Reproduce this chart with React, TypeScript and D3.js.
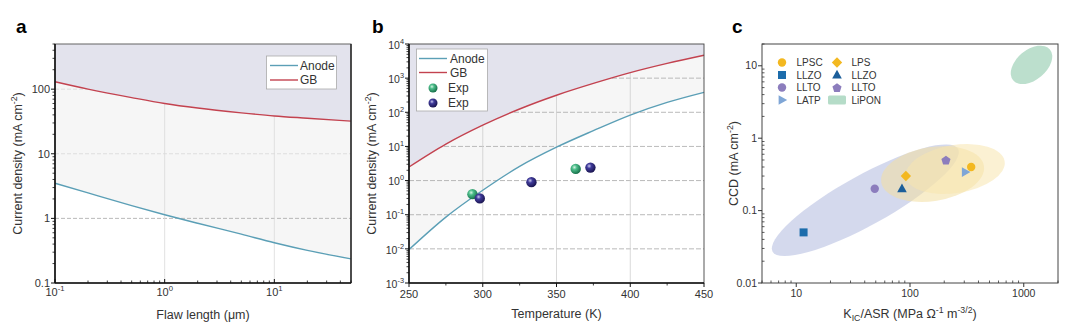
import React from 'react';
import * as d3 from 'd3';

const FONT = '"Liberation Sans", Arial, Helvetica, sans-serif';

// ---------- Panel a data ----------
const flawLength = [0.1, 0.2, 0.5, 1, 2, 5, 10, 20, 50];
const anodeA = [3.5, 2.48, 1.58, 1.14, 0.84, 0.57, 0.42, 0.32, 0.236];
const gbA = [130, 100, 74, 60, 51, 43, 38.5, 35.5, 32];
const aXTicks = [0.1, 1, 10];
const aXTickExp = ['-1', '0', '1'];
const aYTicks = [0.1, 1, 10, 100];
const aYTickLabels = ['0.1', '1', '10', '100'];

// ---------- Panel b data ----------
const temperature = [250, 275, 300, 325, 350, 375, 400, 425, 450];
const anodeB = [0.0095, 0.085, 0.52, 2.6, 9.5, 29, 83, 195, 385];
const gbB = [2.5, 11.7, 42, 125, 316, 700, 1450, 2700, 4700];
const expGreenT = [293, 363];
const expGreenJ = [0.4, 2.2];
const expBlueT = [298, 333, 373];
const expBlueJ = [0.3, 0.9, 2.4];
const bXTicks = [250, 300, 350, 400, 450];
const bYTickExp = [-3, -2, -1, 0, 1, 2, 3, 4];

// ---------- Panel c data ----------
const cPointNames = ['LPSC', 'LLZO', 'LLTO', 'LATP', 'LPS', 'LLZO', 'LLTO'];
const cPointKic = [345, 11.6, 49, 306, 92, 85, 207];
const cPointCcd = [0.4, 0.05, 0.2, 0.34, 0.3, 0.2, 0.5];
const cEllipseNames = ['LLZO/LLTO', 'LPS', 'LPSC', 'LiPON'];
const cEllipseKic = [40.5, 158, 250, 1170];
const cEllipseCcd = [0.139, 0.32, 0.375, 10.3];
const cXTicks = [10, 100, 1000];
const cYTicks = [0.01, 0.1, 1, 10];
const cYTickLabels = ['0.01', '0.1', '1', '10'];

// ---------- styles ----------
const ANODE = '#5b9fb6';
const GB = '#c3424f';
const LAVENDER = '#e3e3ed';
const BETWEEN = '#f6f6f6';
const cPointShape = ['circle', 'square', 'circle', 'triRight', 'diamond', 'triangle', 'pentagon'];
const cPointColor = ['#f3b820', '#1c6cab', '#8c7dbd', '#7fa6d6', '#f3b820', '#1b5e9a', '#8c7dbd'];
const cEllipseStyle = [
  { rx: 106, ry: 25, rot: -29, fill: '#c9cfe8', op: 0.8 },
  { rx: 52, ry: 27, rot: -9, fill: '#f3dea0', op: 0.55 },
  { rx: 50, ry: 24, rot: -9, fill: '#f8e6ae', op: 0.55 },
  { rx: 24, ry: 15, rot: -40, fill: '#b5dcc8', op: 0.9 },
];

function minorLogTicks(lo: number, hi: number) {
  const out: number[] = [];
  for (let e = Math.floor(Math.log10(lo)); e <= Math.ceil(Math.log10(hi)); e++) {
    for (let k = 2; k <= 9; k++) {
      const v = k * Math.pow(10, e);
      if (v >= lo && v <= hi) out.push(v);
    }
  }
  return out;
}

function shapePath(shape: string, s: number) {
  switch (shape) {
    case 'square':
      return `M${-s},${-s}h${2 * s}v${2 * s}h${-2 * s}Z`;
    case 'diamond':
      return `M0,${-s * 1.3}L${s * 1.3},0L0,${s * 1.3}L${-s * 1.3},0Z`;
    case 'triangle':
      return `M0,${-s * 1.3}L${s * 1.2},${s * 0.85}L${-s * 1.2},${s * 0.85}Z`;
    case 'triRight':
      return `M${s * 1.3},0L${-s * 0.85},${s * 1.2}L${-s * 0.85},${-s * 1.2}Z`;
    case 'pentagon': {
      const pts = d3.range(5).map((k) => {
        const a = ((-90 + 72 * k) * Math.PI) / 180;
        return [Math.cos(a) * s * 1.2, Math.sin(a) * s * 1.2 + 0.5];
      });
      return 'M' + pts.map((p) => p.join(',')).join('L') + 'Z';
    }
    default:
      return d3.arc()({ innerRadius: 0, outerRadius: s * 1.05, startAngle: 0, endAngle: 2 * Math.PI }) as string;
  }
}

const Sup = ({ base, exp }: { base: string; exp: string }) => (
  <>
    {base}
    <tspan dy={-5} fontSize="0.7em">{exp}</tspan>
  </>
);

function PanelA() {
  const x = d3.scaleLog().domain([0.1, 50]).range([55, 351]);
  const y = d3.scaleLog().domain([0.1, 500]).range([283, 44]);
  const [x0, x1] = x.range();
  const [y0, y1] = y.range();
  const data = flawLength.map((f, i) => ({ f, a: anodeA[i], g: gbA[i] }));
  const curve = d3.curveMonotoneX;
  const above = d3.area<any>().x((d) => x(d.f)).y0(y1).y1((d) => y(d.g)).curve(curve)(data) as string;
  const between = d3.area<any>().x((d) => x(d.f)).y0((d) => y(d.g)).y1((d) => y(d.a)).curve(curve)(data) as string;
  const lineA = d3.line<any>().x((d) => x(d.f)).y((d) => y(d.a)).curve(curve)(data) as string;
  const lineG = d3.line<any>().x((d) => x(d.f)).y((d) => y(d.g)).curve(curve)(data) as string;
  return (
    <g>
      <text x={16} y={33} fontSize={19} fontWeight="bold">a</text>
      <path d={between} fill={BETWEEN} />
      {aYTicks.slice(1).map((t) => (
        <line key={'gy' + t} x1={x0} x2={x1} y1={y(t)} y2={y(t)} stroke={t === 1 ? '#a8a8a8' : '#d8d8d8'} strokeWidth={0.8} strokeDasharray="4,2" />
      ))}
      {aXTicks.slice(1).map((t) => (
        <line key={'gx' + t} x1={x(t)} x2={x(t)} y1={y0} y2={y1} stroke="#dadada" strokeWidth={0.8} />
      ))}
      <path d={above} fill={LAVENDER} />
      <path d={lineA} fill="none" stroke={ANODE} strokeWidth={1.4} />
      <path d={lineG} fill="none" stroke={GB} strokeWidth={1.4} />
      {/* frame */}
      <rect x={x0} y={y1} width={x1 - x0} height={y0 - y1} fill="none" stroke="#555" strokeWidth={0.9} />
      <line x1={x0} x2={x0} y1={y1} y2={y0} stroke="#111" strokeWidth={1.6} />
      <line x1={x0} x2={x1} y1={y0} y2={y0} stroke="#111" strokeWidth={1.6} />
      <line x1={x1} x2={x1} y1={y1} y2={y0} stroke="#222" strokeWidth={1.4} />
      {/* y ticks */}
      {aYTicks.map((t, i) => (
        <g key={'yt' + t}>
          <line x1={x0 - 4} x2={x0} y1={y(t)} y2={y(t)} stroke="#111" />
          <text x={x0 - 5} y={y(t)} dy="0.35em" textAnchor="end" fontSize={11} fill="#333">{aYTickLabels[i]}</text>
        </g>
      ))}
      {minorLogTicks(0.1, 500).map((t) => (
        <line key={'ym' + t} x1={x0 - 2.5} x2={x0} y1={y(t)} y2={y(t)} stroke="#111" strokeWidth={0.8} />
      ))}
      {/* x ticks */}
      {aXTicks.map((t, i) => (
        <g key={'xt' + t}>
          <line x1={x(t)} x2={x(t)} y1={y0} y2={y0 - 4} stroke="#111" />
          <text x={x(t)} y={296} textAnchor="middle" fontSize={11} fill="#333"><Sup base="10" exp={aXTickExp[i]} /></text>
        </g>
      ))}
      {minorLogTicks(0.1, 50).map((t) => (
        <line key={'xm' + t} x1={x(t)} x2={x(t)} y1={y0} y2={y0 - 2.5} stroke="#111" strokeWidth={0.8} />
      ))}
      <text x={(x0 + x1) / 2} y={319} textAnchor="middle" fontSize={12.5} fill="#333">Flaw length (μm)</text>
      <text transform={`translate(22,${(y0 + y1) / 2}) rotate(-90)`} textAnchor="middle" fontSize={12.5} fill="#333">
        Current density (mA cm<tspan dy={-5} fontSize="0.7em">-2</tspan><tspan dy={5}>)</tspan>
      </text>
      {/* legend */}
      <rect x={266.5} y={56} width={70} height={33} fill="#fff" stroke="#aaa" strokeWidth={0.8} />
      <line x1={270} x2={298} y1={65.5} y2={65.5} stroke={ANODE} strokeWidth={1.4} />
      <text x={300} y={65.5} dy="0.35em" fontSize={12} fill="#333">Anode</text>
      <line x1={270} x2={298} y1={80} y2={80} stroke={GB} strokeWidth={1.4} />
      <text x={300} y={80} dy="0.35em" fontSize={12} fill="#333">GB</text>
    </g>
  );
}

function Sphere({ cx, cy, id, r }: { cx: number; cy: number; id: string; r: number }) {
  return <circle cx={cx} cy={cy} r={r} fill={`url(#${id})`} />;
}

function PanelB() {
  const x = d3.scaleLinear().domain([250, 450]).range([409, 704]);
  const y = d3.scaleLog().domain([1e-3, 1e4]).range([283, 44]);
  const [x0, x1] = x.range();
  const [y0, y1] = y.range();
  const data = temperature.map((t, i) => ({ t, a: anodeB[i], g: gbB[i] }));
  const curve = d3.curveMonotoneX;
  const above = d3.area<any>().x((d) => x(d.t)).y0(y1).y1((d) => y(d.g)).curve(curve)(data) as string;
  const between = d3.area<any>().x((d) => x(d.t)).y0((d) => y(d.g)).y1((d) => y(d.a)).curve(curve)(data) as string;
  const lineA = d3.line<any>().x((d) => x(d.t)).y((d) => y(d.a)).curve(curve)(data) as string;
  const lineG = d3.line<any>().x((d) => x(d.t)).y((d) => y(d.g)).curve(curve)(data) as string;
  return (
    <g>
      <text x={372} y={33} fontSize={19} fontWeight="bold">b</text>
      <path d={between} fill={BETWEEN} />
      {bYTickExp.slice(1, -1).map((e) => (
        <line key={'gy' + e} x1={x0} x2={x1} y1={y(Math.pow(10, e))} y2={y(Math.pow(10, e))} stroke="#a8a8a8" strokeWidth={0.8} strokeDasharray="5,2" />
      ))}
      {bXTicks.slice(1, -1).map((t) => (
        <line key={'gx' + t} x1={x(t)} x2={x(t)} y1={y0} y2={y1} stroke="#cfcfcf" strokeWidth={0.8} />
      ))}
      <path d={above} fill={LAVENDER} />
      <path d={lineA} fill="none" stroke={ANODE} strokeWidth={1.4} />
      <path d={lineG} fill="none" stroke={GB} strokeWidth={1.4} />
      {expGreenT.map((t, i) => (
        <Sphere key={'g' + t} cx={x(t)} cy={y(expGreenJ[i])} id="sphG" r={5.2} />
      ))}
      {expBlueT.map((t, i) => (
        <Sphere key={'b' + t} cx={x(t)} cy={y(expBlueJ[i])} id="sphB" r={5.2} />
      ))}
      <rect x={x0} y={y1} width={x1 - x0} height={y0 - y1} fill="none" stroke="#444" strokeWidth={0.9} />
      <line x1={x0} x2={x0} y1={y1} y2={y0} stroke="#111" strokeWidth={1.6} />
      <line x1={x0} x2={x1} y1={y0} y2={y0} stroke="#111" strokeWidth={1.6} />
      {bYTickExp.map((e) => (
        <g key={'yt' + e}>
          <line x1={x0 - 4} x2={x0} y1={y(Math.pow(10, e))} y2={y(Math.pow(10, e))} stroke="#111" />
          <text x={x0 - 5} y={y(Math.pow(10, e)) + 1} dy="0.35em" textAnchor="end" fontSize={10.5} fill="#333"><Sup base="10" exp={String(e)} /></text>
        </g>
      ))}
      {minorLogTicks(1e-3, 1e4).map((t) => (
        <line key={'ym' + t} x1={x0 - 2.5} x2={x0} y1={y(t)} y2={y(t)} stroke="#111" strokeWidth={0.8} />
      ))}
      {bXTicks.map((t) => (
        <g key={'xt' + t}>
          <line x1={x(t)} x2={x(t)} y1={y0} y2={y0 + 4} stroke="#111" />
          <text x={x(t)} y={298} textAnchor="middle" fontSize={11} fill="#333">{t}</text>
        </g>
      ))}
      {d3.range(275, 450, 50).map((t) => (
        <line key={'xm' + t} x1={x(t)} x2={x(t)} y1={y0} y2={y0 + 2.5} stroke="#111" strokeWidth={0.8} />
      ))}
      <text x={(x0 + x1) / 2} y={318} textAnchor="middle" fontSize={12.5} fill="#333">Temperature (K)</text>
      <text transform={`translate(376,${(y0 + y1) / 2}) rotate(-90)`} textAnchor="middle" fontSize={12.5} fill="#333">
        Current density (mA cm<tspan dy={-5} fontSize="0.7em">-2</tspan><tspan dy={5}>)</tspan>
      </text>
      <rect x={416.5} y={49} width={71} height={62} fill="#fff" stroke="#aaa" strokeWidth={0.8} />
      <line x1={419} x2={447} y1={58.5} y2={58.5} stroke={ANODE} strokeWidth={1.4} />
      <text x={450} y={58.5} dy="0.35em" fontSize={12} fill="#333">Anode</text>
      <line x1={419} x2={447} y1={72.5} y2={72.5} stroke={GB} strokeWidth={1.4} />
      <text x={450} y={72.5} dy="0.35em" fontSize={12} fill="#333">GB</text>
      <Sphere cx={433} cy={88} id="sphG" r={4.5} />
      <text x={448} y={88} dy="0.35em" fontSize={12} fill="#333">Exp</text>
      <Sphere cx={433} cy={103} id="sphB" r={4.5} />
      <text x={448} y={103} dy="0.35em" fontSize={12} fill="#333">Exp</text>
    </g>
  );
}

function PanelC() {
  const x = d3.scaleLog().domain([5, 2000]).range([762, 1058]);
  const y = d3.scaleLog().domain([0.01, 20]).range([283, 44]);
  const [x0, x1] = x.range();
  const [y0, y1] = y.range();
  const legendIdx = [[0, 1, 2, 3], [4, 5, 6, -1]];
  const colX = [782, 837];
  const rowY = [62.5, 75, 87.5, 100];
  return (
    <g>
      <text x={732} y={33} fontSize={19} fontWeight="bold">c</text>
      {cEllipseNames.map((n, i) => {
        const s = cEllipseStyle[i];
        return (
          <ellipse key={n} cx={0} cy={0} rx={s.rx} ry={s.ry} fill={s.fill} opacity={s.op}
            transform={`translate(${x(cEllipseKic[i])},${y(cEllipseCcd[i])}) rotate(${s.rot})`} />
        );
      })}
      {cPointNames.map((n, i) => (
        <path key={'p' + i} d={shapePath(cPointShape[i], 4)} fill={cPointColor[i]}
          transform={`translate(${x(cPointKic[i])},${y(cPointCcd[i])})`} />
      ))}
      <rect x={x0} y={y1} width={x1 - x0} height={y0 - y1} fill="none" stroke="#444" strokeWidth={1} />
      {cYTicks.map((t, i) => (
        <g key={'yt' + t}>
          <line x1={x0 - 4} x2={x0} y1={y(t)} y2={y(t)} stroke="#333" />
          <text x={x0 - 5} y={y(t)} dy="0.35em" textAnchor="end" fontSize={10.5} fill="#333">{cYTickLabels[i]}</text>
        </g>
      ))}
      {minorLogTicks(0.01, 20).map((t) => (
        <line key={'ym' + t} x1={x0} x2={x0 + 2.5} y1={y(t)} y2={y(t)} stroke="#333" strokeWidth={0.8} />
      ))}
      {cXTicks.map((t) => (
        <g key={'xt' + t}>
          <line x1={x(t)} x2={x(t)} y1={y0} y2={y0 + 4} stroke="#333" />
          <text x={x(t)} y={297} textAnchor="middle" fontSize={10.5} fill="#333">{t}</text>
        </g>
      ))}
      {minorLogTicks(5, 2000).map((t) => (
        <line key={'xm' + t} x1={x(t)} x2={x(t)} y1={y0} y2={y0 - 2.5} stroke="#333" strokeWidth={0.8} />
      ))}
      <text x={(x0 + x1) / 2} y={318} textAnchor="middle" fontSize={12.5} fill="#333">
        K<tspan dy={3} fontSize="0.7em">IC</tspan><tspan dy={-3}>/ASR (MPa Ω</tspan>
        <tspan dy={-5} fontSize="0.7em">-1</tspan><tspan dy={5}> m</tspan>
        <tspan dy={-5} fontSize="0.7em">-3/2</tspan><tspan dy={5}>)</tspan>
      </text>
      <text transform={`translate(738,${(y0 + y1) / 2}) rotate(-90)`} textAnchor="middle" fontSize={12.5} fill="#333">
        CCD (mA cm<tspan dy={-5} fontSize="0.7em">-2</tspan><tspan dy={5}>)</tspan>
      </text>
      {legendIdx.map((col, ci) =>
        col.map((pi, ri) => (
          <g key={'lg' + ci + ri} transform={`translate(${colX[ci]},${rowY[ri]})`}>
            {pi >= 0 ? (
              <path d={shapePath(cPointShape[pi], 4)} fill={cPointColor[pi]} />
            ) : (
              <rect x={-9} y={-4.5} width={18} height={9} rx={1.5} fill={cEllipseStyle[3].fill} />
            )}
            <text x={14.5} dy="0.35em" fontSize={10} fill="#333">{pi >= 0 ? cPointNames[pi] : cEllipseNames[3]}</text>
          </g>
        ))
      )}
    </g>
  );
}

export default function App() {
  return (
    <div style={{ position: 'absolute', left: 0, top: 0 }}>
      <svg width={1080} height={331} viewBox="0 0 1080 331" style={{ display: 'block', fontFamily: FONT }}>
        <defs>
          <radialGradient id="sphG" cx="38%" cy="35%" r="65%">
            <stop offset="0%" stopColor="#d6f5e4" />
            <stop offset="35%" stopColor="#4cbd8a" />
            <stop offset="100%" stopColor="#17704a" />
          </radialGradient>
          <radialGradient id="sphB" cx="38%" cy="35%" r="65%">
            <stop offset="0%" stopColor="#c9c8f0" />
            <stop offset="35%" stopColor="#3f3a9a" />
            <stop offset="100%" stopColor="#1a1550" />
          </radialGradient>
        </defs>
        <rect width={1080} height={331} fill="#fff" />
        <PanelA />
        <PanelB />
        <PanelC />
      </svg>
    </div>
  );
}
